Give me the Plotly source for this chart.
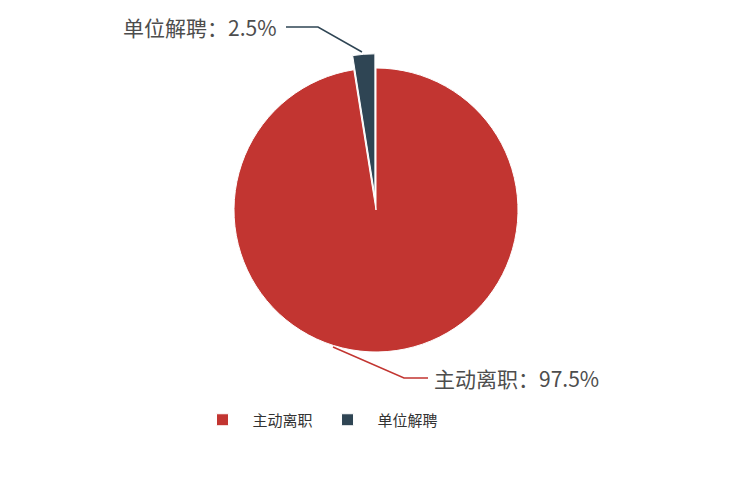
import plotly.graph_objects as go

labels = ["主动离职", "单位解聘"]
values = [97.5, 2.5]
colors = ["#c23531", "#2f4554"]

W, H = 734, 500
OFF = 8  # page body margin shifts the figure
FONT = "Noto Sans CJK SC, Microsoft YaHei, sans-serif"

def px(x):
    return (x - OFF) / W

def py(y):
    return 1 - (y - OFF) / H

# pie centre ~ (376, 210), radius ~142 px; pull on the small slice shrinks radius
pull = 0.1
cx, cy, r = 376, 210, 142
half = r * (1 + pull)

fig = go.Figure(go.Pie(
    labels=labels,
    values=values,
    sort=False,
    direction="clockwise",
    rotation=0,
    pull=[0, pull],
    marker=dict(colors=colors, line=dict(color="white", width=1)),
    textinfo="none",
    hoverinfo="label+percent",
    domain=dict(x=[px(cx - half), px(cx + half)], y=[py(cy + half), py(cy - half)]),
))

# leader lines
fig.add_shape(type="path", xref="paper", yref="paper",
              path=f"M {px(286)} {py(27)} L {px(318)} {py(27)} L {px(362)} {py(52)}",
              line=dict(color="#2f4554", width=1.5))
fig.add_shape(type="path", xref="paper", yref="paper",
              path=f"M {px(333)} {py(347)} L {px(404)} {py(378)} L {px(428)} {py(378)}",
              line=dict(color="#c23531", width=1.5))

fig.add_annotation(x=px(279), y=py(27), xref="paper", yref="paper",
                   text="单位解聘：2.5%", showarrow=False,
                   xanchor="right", yanchor="middle",
                   font=dict(family=FONT, size=21, color="#4d4d4d"))
fig.add_annotation(x=px(432), y=py(378), xref="paper", yref="paper",
                   text="主动离职：97.5%", showarrow=False,
                   xanchor="left", yanchor="middle",
                   font=dict(family=FONT, size=21, color="#4d4d4d"))

fig.update_layout(
    width=W, height=H,
    margin=dict(l=0, r=0, t=0, b=0),
    paper_bgcolor="white",
    plot_bgcolor="white",
    font=dict(family=FONT, size=14, color="#333"),
    legend=dict(orientation="h", x=px(318), y=py(420), xanchor="center", yanchor="middle",
                font=dict(family=FONT, size=15, color="#333"),
                itemwidth=50, traceorder="normal"),
)

fig.write_html("out.html")
